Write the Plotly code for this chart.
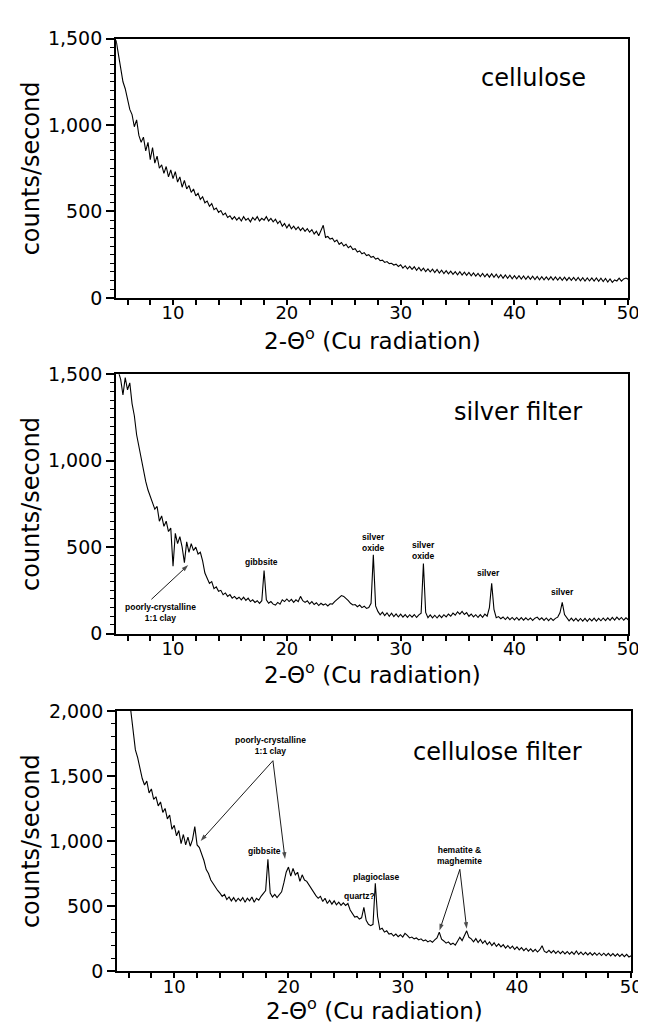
import numpy as np
import plotly.graph_objects as go

# ---------------- data (2-theta grid 5.0 .. 50.0 step 0.2) ----------------
theta_start = 5.0
theta_step = 0.2

cellulose_cps = [
    1490, 1400, 1330, 1250, 1210,   # 5
    1150, 1090, 1060, 990, 1030,    # 6
    940, 900, 930, 850, 900,        # 7
    800, 870, 780, 820, 750,        # 8
    770, 720, 760, 700, 740,        # 9
    690, 730, 670, 700, 640,        # 10
    680, 630, 650, 610, 630,        # 11
    590, 605, 570, 585, 550,        # 12
    560, 530, 545, 510, 520,        # 13
    495, 505, 480, 490, 465,        # 14
    475, 455, 470, 450, 465,        # 15
    445, 470, 450, 460, 440,        # 16
    465, 450, 470, 445, 460,        # 17
    450, 470, 445, 460, 440,        # 18
    455, 430, 445, 415, 430,        # 19
    405, 425, 400, 415, 395,        # 20
    410, 390, 405, 385, 400,        # 21
    380, 395, 370, 385, 360,        # 22
    390, 420, 350, 355, 340,        # 23
    345, 325, 335, 310, 320,        # 24
    300, 310, 290, 300, 280,        # 25
    285, 265, 272, 255, 262,        # 26
    245, 250, 235, 240, 225,        # 27
    230, 215, 218, 205, 210,        # 28
    198, 200, 190, 195, 182,        # 29
    192, 172, 186, 168, 182,        # 30
    165, 180, 160, 176, 156,        # 31
    172, 152, 168, 150, 166,        # 32
    146, 164, 144, 160, 141,        # 33
    158, 139, 155, 136, 152,        # 34
    134, 152, 132, 149, 130,        # 35
    147, 128, 145, 126, 142,        # 36
    124, 142, 122, 139, 120,        # 37
    140, 119, 137, 116, 134,        # 38
    114, 133, 113, 131, 111,        # 39
    129, 110, 128, 109, 127,        # 40
    108, 126, 107, 125, 106,        # 41
    124, 105, 123, 105, 122,        # 42
    104, 122, 103, 121, 103,        # 43
    120, 102, 120, 101, 119,        # 44
    101, 118, 100, 118, 99,         # 45
    117, 98, 116, 98, 115,          # 46
    97, 115, 96, 114, 95,           # 47
    113, 92, 110, 90, 104,          # 48
    98, 114, 97, 110, 115,          # 49
    108,                            # 50
]

silver_cps = [
    1560, 1510, 1470, 1380, 1480,   # 5
    1410, 1450, 1330, 1260, 1150,   # 6
    1080, 1010, 940, 880, 830,      # 7
    790, 760, 720, 735, 650,        # 8
    680, 620, 650, 590, 610,        # 9
    390, 580, 520, 560, 500,        # 10
    410, 530, 470, 520, 480,        # 11
    500, 460, 470, 420, 350,        # 12
    320, 290, 300, 260, 270,        # 13
    245, 250, 225, 235, 215,        # 14
    225, 205, 215, 200, 210,        # 15
    195, 210, 192, 205, 185,        # 16
    195, 180, 190, 175, 190,        # 17
    365, 195, 175, 185, 170,        # 18
    165, 180, 170, 195, 185,        # 19
    200, 185, 198, 180, 195,        # 20
    185, 215, 190, 180, 190,        # 21
    172, 185, 168, 178, 162,        # 22
    175, 165, 172, 160, 172,        # 23
    170, 185, 195, 210, 220,        # 24
    215, 205, 190, 175, 165,        # 25
    168, 155, 165, 150, 158,        # 26
    145, 150, 175, 455, 160,        # 27
    128, 108, 124, 104, 120,        # 28
    100, 118, 98, 114, 96,          # 29
    112, 95, 110, 94, 109,          # 30
    95, 110, 93, 108, 118,          # 31
    405, 122, 92, 108, 91,          # 32
    106, 90, 107, 92, 109,          # 33
    96, 113, 100, 118, 106,         # 34
    126, 112, 128, 110, 121,        # 35
    100, 113, 96, 109, 93,          # 36
    109, 94, 112, 100, 150,         # 37
    290, 140, 92, 98, 86,           # 38
    96, 81, 95, 80, 93,             # 39
    79, 93, 78, 92, 77,             # 40
    91, 78, 90, 76, 89,             # 41
    95, 80, 91, 76, 90,             # 42
    75, 89, 76, 88, 95,             # 43
    120, 180, 110, 90, 74,          # 44
    89, 73, 88, 72, 87,             # 45
    72, 88, 71, 87, 73,             # 46
    89, 72, 88, 74, 90,             # 47
    75, 91, 76, 93, 78,             # 48
    95, 80, 93, 77, 91,             # 49
    80,                             # 50
]

cellulose_filter_cps = [
    2900, 2750, 2600, 2450, 2300,   # 5
    2150, 1980, 1850, 1700, 1640,   # 6
    1560, 1480, 1430, 1460, 1370,   # 7
    1400, 1320, 1340, 1270, 1300,   # 8
    1220, 1250, 1170, 1200, 1090,   # 9
    1120, 1040, 1080, 980, 1050,    # 10
    970, 1030, 960, 1010, 1110,     # 11
    970, 950, 900, 850, 780,        # 12
    750, 700, 670, 640, 620,        # 13
    600, 575, 590, 550, 570,        # 14
    540, 565, 535, 560, 540,        # 15
    565, 530, 560, 540, 570,        # 16
    530, 560, 545, 575, 600,        # 17
    620, 860, 600, 570, 590,        # 18
    565, 585, 610, 680, 760,        # 19
    800, 730, 790, 740, 760,        # 20
    690, 740, 700, 690, 660,        # 21
    640, 600, 580, 560, 575,        # 22
    535, 560, 520, 545, 515,        # 23
    540, 510, 530, 505, 525,        # 24
    505, 520, 470, 440, 415,        # 25
    420, 400, 410, 490, 390,        # 26
    360, 350, 360, 675, 420,        # 27
    320, 330, 300, 310, 285,        # 28
    290, 270, 285, 265, 280,        # 29
    262, 290, 275, 255, 262,        # 30
    248, 255, 240, 248, 232,        # 31
    240, 225, 235, 222, 240,        # 32
    255, 300, 245, 232, 215,        # 33
    225, 205, 215, 200, 230,        # 34
    260, 235, 275, 310, 260,        # 35
    248, 226, 250, 220, 244,        # 36
    214, 234, 204, 224, 196,        # 37
    218, 190, 210, 186, 204,        # 38
    177, 197, 174, 192, 168,        # 39
    186, 163, 181, 158, 176,        # 40
    154, 171, 150, 168, 147,        # 41
    165, 195, 152, 143, 160,        # 42
    140, 158, 137, 155, 135,        # 43
    153, 133, 151, 131, 149,        # 44
    129, 155, 128, 146, 126,        # 45
    145, 125, 143, 123, 141,        # 46
    122, 140, 120, 138, 119,        # 47
    137, 117, 135, 115, 133,        # 48
    113, 131, 111, 129, 109,        # 49
    118,                            # 50
]

panel_names = ["cellulose", "silver filter", "cellulose filter"]
panel_name_pos = [(41.7, 1274), (40.3, 1283), (38.3, 1687)]
y_max = [1500, 1500, 2000]
y_minor = [50, 50, 100]

# peak labels per panel: (text, x, y)
silver_labels = [
    ("gibbsite", 17.8, 415),
    ("silver<br>oxide", 27.6, 528),
    ("silver<br>oxide", 32.0, 483),
    ("silver", 37.7, 353),
    ("silver", 44.2, 243),
    ("poorly-crystalline<br>1:1 clay", 8.9, 123),
]
silver_arrows = [((8.1, 198), (11.33, 396))]  # (tail, head)

cf_labels = [
    ("poorly-crystalline<br>1:1 clay", 18.43, 1735),
    ("gibbsite", 17.86, 925),
    ("plagioclase", 27.67, 725),
    ("quartz?", 26.18, 575),
    ("hematite &amp;<br>maghemite", 35.0, 885),
]
cf_arrows = [((18.64, 1617), (12.31, 1000)),
             ((18.64, 1617), (19.7, 862)),
             ((35.0, 782), (33.22, 312)),
             ((35.0, 782), (35.6, 325))]

# ---------------- figure ----------------
W, H = 646, 1027
series = [cellulose_cps, silver_cps, cellulose_filter_cps]
x_dom = [[110 / W, 631 / W], [110 / W, 631 / W], [111 / W, 634 / W]]
y_pix = [(20, 285), (363, 628), (707, 973)]
y_dom = [[1 - b / H, 1 - t / H] for t, b in y_pix]
xtitle_y = [327, 668, 1012]

BIG = "DejaVu Sans"
fig = go.Figure()
annotations = []


def refs(n):
    return (f"x{n}" if n > 1 else "x"), (f"y{n}" if n > 1 else "y")


for i, vals in enumerate(series):
    n = i + 1
    xr, yr = refs(n)
    xs = theta_start + theta_step * np.arange(len(vals))
    fig.add_trace(go.Scatter(
        x=xs, y=vals, mode="lines",
        line=dict(color="black", width=1.1),
        xaxis=xr, yaxis=yr, showlegend=False, hoverinfo="skip"))

    xa = dict(domain=x_dom[i], range=[5, 50], anchor=yr,
              showline=True, linecolor="black", linewidth=2, mirror=True,
              ticks="outside", ticklen=5, tickwidth=1.5, tickcolor="black",
              tick0=0, dtick=10, showgrid=False, zeroline=False,
              ticklabelstandoff=-7,
              tickfont=dict(family=BIG, size=18, color="black"),
              minor=dict(ticks="outside", dtick=2, tick0=0, ticklen=5,
                         tickwidth=1.5, tickcolor="black", showgrid=False))
    ya = dict(domain=y_dom[i], range=[0, y_max[i]], anchor=xr,
              showline=True, linecolor="black", linewidth=2, mirror=True,
              ticks="outside", ticklen=8, tickwidth=1.5, tickcolor="black",
              tick0=0, dtick=500, tickformat=",d", showgrid=False, zeroline=False,
              tickfont=dict(family=BIG, size=19, color="black"),
              minor=dict(ticks="outside", dtick=y_minor[i], tick0=0, ticklen=4,
                         tickwidth=1.2, tickcolor="black", showgrid=False))
    fig.update_layout({f"xaxis{n if n > 1 else ''}": xa, f"yaxis{n if n > 1 else ''}": ya})

    annotations.append(dict(text="counts/second", xref="paper", yref="paper",
                            x=23.5 / W, y=(y_dom[i][0] + y_dom[i][1]) / 2,
                            textangle=-90, showarrow=False,
                            xanchor="center", yanchor="middle",
                            font=dict(family=BIG, size=24, color="black")))
    annotations.append(dict(text="2-Θ<sup>o</sup> (Cu radiation)", xref="paper", yref="paper",
                            x=(x_dom[i][0] + x_dom[i][1]) / 2, y=1 - xtitle_y[i] / H,
                            showarrow=False, xanchor="center", yanchor="middle",
                            font=dict(family=BIG, size=23, color="black")))
    annotations.append(dict(text=panel_names[i], xref=xr, yref=yr,
                            x=panel_name_pos[i][0], y=panel_name_pos[i][1],
                            showarrow=False, xanchor="center", yanchor="middle",
                            font=dict(family=BIG, size=24, color="black")))

SMALL = dict(family="Liberation Sans", size=8.5, color="black")


def add_labels(labels, n):
    xr, yr = refs(n)
    for txt, x, y in labels:
        annotations.append(dict(text=f"<b>{txt}</b>", xref=xr, yref=yr, x=x, y=y,
                                showarrow=False, xanchor="center", yanchor="middle",
                                font=SMALL))


def add_arrows(arrows, n):
    xr, yr = refs(n)
    for (tx, ty), (hx, hy) in arrows:
        fig.add_trace(go.Scatter(
            x=[tx, hx], y=[ty, hy], mode="lines+markers",
            line=dict(color="black", width=0.9),
            marker=dict(symbol=["circle", "arrow"], size=[0, 7],
                        angleref="previous", color="black", line=dict(width=0)),
            xaxis=xr, yaxis=yr, showlegend=False, hoverinfo="skip"))


add_labels(silver_labels, 2)
add_arrows(silver_arrows, 2)
add_labels(cf_labels, 3)
add_arrows(cf_arrows, 3)

fig.update_layout(width=W, height=H, margin=dict(l=0, r=0, t=0, b=0),
                  paper_bgcolor="white", plot_bgcolor="white",
                  annotations=annotations, showlegend=False)

fig.write_html("out.html")
